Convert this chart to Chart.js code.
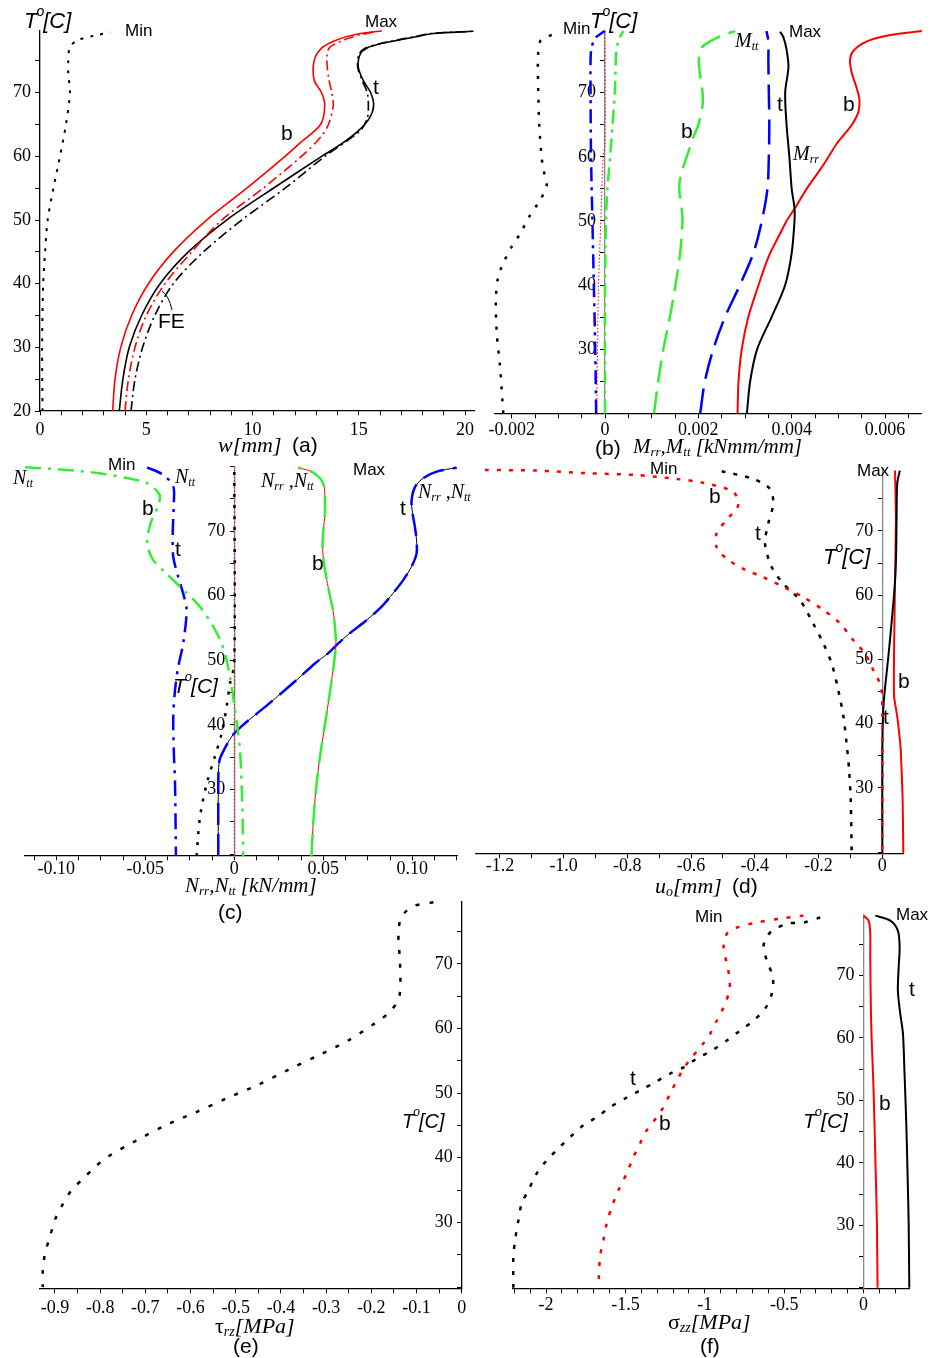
<!DOCTYPE html>
<html><head><meta charset="utf-8">
<script src="https://cdn.jsdelivr.net/npm/chart.js@4.4.0/dist/chart.umd.min.js"></script>
<style>
html,body{margin:0;padding:0;background:#fff;}
#wrap{position:relative;width:930px;height:1358px;overflow:hidden;background:#fff;}
canvas{position:absolute;left:0;top:0;}
</style></head><body><div id="wrap">
<canvas id="ca" width="930" height="1358"></canvas>
<canvas id="cb" width="930" height="1358"></canvas>
<canvas id="cc" width="930" height="1358"></canvas>
<canvas id="cd" width="930" height="1358"></canvas>
<canvas id="ce" width="930" height="1358"></canvas>
<canvas id="cf" width="930" height="1358"></canvas>
</div>
<script>
// ---------- (a) deflection w [mm] vs T ----------
const aT_min = [20, 30, 40, 45, 50, 55, 60, 65, 70, 73, 75, 77.2, 78.3, 79.0, 79.5];
const aW_min = [0.12, 0.10, 0.15, 0.24, 0.36, 0.63, 0.94, 1.22, 1.41, 1.33, 1.33, 1.41, 1.8, 2.6, 3.3];
const aT_b = [20, 25, 30, 35, 40, 45, 50, 55, 60, 62, 65, 68, 70, 72, 75, 77, 78.3, 79.3, 79.7];
const aW_b = [3.42, 3.53, 3.80, 4.31, 5.10, 6.27, 7.84, 9.73, 11.53, 12.2, 13.2, 13.4, 13.25, 12.9, 12.9, 13.25, 13.96, 15.06, 16.08];
const aT_bfe = [20, 25, 30, 35, 40, 45, 50, 55, 60, 63, 65, 68, 70, 72, 75, 77, 78.3, 79.2, 79.6];
const aW_bfe = [4.0, 4.16, 4.47, 5.0, 5.88, 7.14, 8.55, 10.5, 12.3, 13.2, 13.57, 13.8, 13.73, 13.6, 13.5, 13.6, 14.3, 15.2, 15.8];
const aT_t = [20, 25, 30, 35, 40, 45, 50, 55, 60, 62, 64, 66, 68, 70, 72, 74, 76, 77, 77.8, 78.8, 79.3, 79.65];
const aW_t = [3.73, 3.9, 4.2, 4.78, 5.65, 6.98, 8.78, 10.98, 13.25, 14.2, 14.98, 15.5, 15.7, 15.56, 15.2, 14.98, 15.06, 15.37, 16.16, 17.7, 18.5, 20.4];
const aT_tfe = [20, 25, 30, 35, 40, 45, 50, 55, 60, 64, 66, 68, 70, 72, 74, 76, 77, 77.8, 78.8, 79.3, 79.65];
const aW_tfe = [4.28, 4.47, 4.83, 5.4, 6.27, 7.69, 9.49, 11.53, 13.4, 15.06, 15.4, 15.45, 15.4, 15.15, 14.95, 15.0, 15.3, 16.1, 17.6, 18.4, 20.3];

// ---------- (b) moments Mrr, Mtt [kNmm/mm] ----------
const bT_min = [20, 27.3, 32.5, 37.7, 41.3, 43.4, 46, 48, 50.7, 53.3, 55.5, 58, 60, 65, 70, 75, 77, 78.2, 79.3];
const bM_min = [-0.00218, -0.00225, -0.00232, -0.00234, -0.00229, -0.00218, -0.0020, -0.00182, -0.00162, -0.00139, -0.00125, -0.00132, -0.00136, -0.00141, -0.00143, -0.00144, -0.00142, -0.00137, -0.00104];
const bT_tMin = [20, 30, 40, 50, 60, 70, 75, 77, 78.5, 79.3, 79.6];
const bM_tMin = [-0.00019, -0.00021, -0.00024, -0.00027, -0.00030, -0.00031, -0.00031, -0.00029, -0.00021, -0.00007, 0];
const bT_bMinRr = [20, 30, 40, 50, 60, 62, 79.6];
const bM_bMinRr = [-0.00018, -0.00016, -0.00014, -0.00009, -0.00004, 0, 0];
const bT_bMinTt = [20, 40, 50, 55, 60, 65, 70, 75, 77, 78.5, 79.6];
const bM_bMinTt = [0, 0, 0.00002, 0.00005, 0.00011, 0.00016, 0.00021, 0.00023, 0.00025, 0.00031, 0.00039];
const bT_bMtt = [20, 25, 30, 35, 40, 45, 50, 52, 55, 57, 60, 63, 65, 68, 70, 72, 75, 77, 78, 79, 79.6];
const bM_bMtt = [0.00105, 0.00114, 0.00125, 0.00139, 0.00151, 0.00161, 0.00166, 0.00164, 0.00159, 0.00162, 0.00175, 0.00189, 0.0020, 0.00209, 0.00209, 0.00205, 0.00201, 0.00207, 0.00225, 0.00254, 0.00279];
const bT_tMtt = [20, 25, 30, 35, 40, 45, 50, 55, 60, 65, 70, 75, 78, 79.6];
const bM_tMtt = [0.00204, 0.00214, 0.00232, 0.00257, 0.00289, 0.00318, 0.00336, 0.00348, 0.00351, 0.00352, 0.00351, 0.0035, 0.0035, 0.00346];
const bT_tMrr = [20, 25, 30, 35, 40, 45, 50, 52, 55, 60, 65, 70, 74, 76.7, 78.7, 79.5];
const bM_tMrr = [0.00304, 0.00311, 0.00326, 0.00357, 0.00386, 0.0040, 0.00406, 0.00406, 0.0040, 0.00395, 0.00389, 0.00386, 0.00393, 0.00389, 0.00382, 0.00375];
const bT_bMrr = [20, 25, 30, 35, 40, 43, 45, 48, 50, 52, 55, 58, 60, 62, 65, 67, 69, 71, 73, 75, 76.5, 78, 79, 79.6];
const bM_bMrr = [0.00284, 0.00286, 0.00293, 0.00307, 0.00329, 0.00343, 0.00354, 0.00375, 0.00389, 0.00407, 0.00432, 0.00461, 0.00479, 0.00496, 0.00529, 0.00543, 0.00545, 0.00538, 0.00529, 0.00525, 0.00532, 0.00561, 0.00611, 0.00679];

// ---------- (c) forces Nrr, Ntt [kN/mm] ----------
const cT_bMinTt = [79.86, 79.45, 78.9, 78.2, 77.4, 75.6, 73.8, 71.2, 68.1, 65.5, 63.4, 60.9, 58.3, 55.2, 52.6, 50.0, 47.4, 44.3, 39.7, 36.1, 30.9, 25.7, 19.7];
const cN_bMinTt = [-0.1176, -0.094, -0.075, -0.0605, -0.049, -0.042, -0.043, -0.047, -0.049, -0.0455, -0.038, -0.0287, -0.0193, -0.0118, -0.0071, -0.0043, -0.0024, -0.0006, 0.0017, 0.0032, 0.0041, 0.0047, 0.005];
const cT_tMinTt = [79.86, 78.7, 76.9, 74.3, 69.6, 66.0, 62.9, 60.3, 57.8, 52.6, 49.0, 45.4, 41.3, 36.1, 30.9, 19.7];
const cN_tMinTt = [-0.049, -0.040, -0.0343, -0.034, -0.0346, -0.0343, -0.0315, -0.0287, -0.0268, -0.0287, -0.0315, -0.0333, -0.0343, -0.034, -0.0333, -0.0328];
const cT_tMinRr = [19.7, 25.7, 30.9, 35.1, 38.7, 42.8, 46.4, 49.5, 80];
const cN_tMinRr = [-0.0212, -0.0193, -0.0155, -0.0109, -0.0071, -0.0043, -0.0024, 0, 0];
const cT_bMinRr = [19.7, 80];
const cN_bMinRr = [0, 0];
const cT_tMax = [19.7, 30, 33.4, 34.8, 36.9, 38.5, 40, 41.3, 43.4, 45.4, 47.4, 49.5, 51.1, 52.6, 54.2, 56.2, 58.3, 60.4, 62.4, 64.5, 66.5, 68.6, 70.6, 72.7, 74.7, 76.8, 78.2, 79.2, 79.8];
const cN_tMax = [-0.009, -0.009, -0.0088, -0.008, -0.0043, -0.0006, 0.005, 0.0107, 0.020, 0.0285, 0.0369, 0.0453, 0.0528, 0.0584, 0.065, 0.0743, 0.0828, 0.0893, 0.0949, 0.0996, 0.1024, 0.1024, 0.1015, 0.1002, 0.0996, 0.1015, 0.1062, 0.1137, 0.1249];
const cT_bMax = [19.7, 25, 30, 35, 40, 45, 50, 52.6, 55, 57.5, 60, 62.5, 65, 67.5, 70, 72.5, 75, 77, 78.2, 79.2, 79.8];
const cN_bMax = [0.0434, 0.0444, 0.0459, 0.0481, 0.0509, 0.0537, 0.0562, 0.0571, 0.0566, 0.0556, 0.0537, 0.0519, 0.0504, 0.0496, 0.050, 0.0509, 0.0509, 0.0504, 0.0481, 0.0434, 0.036];

// ---------- (d) in-plane displacement uo [mm] ----------
const dT_bMin = [79.5, 79.4, 79.0, 78.7, 78.1, 77.5, 76.1, 74.0, 71.7, 69.6, 67.5, 65.7, 64.1, 62.8, 61.3, 59.7, 57.7, 55.6, 53.0, 50.9, 48.3, 46.2, 44.2, 19.8];
const dU_bMin = [-1.247, -1.085, -0.928, -0.771, -0.646, -0.562, -0.468, -0.452, -0.489, -0.52, -0.52, -0.489, -0.436, -0.374, -0.311, -0.248, -0.185, -0.133, -0.091, -0.054, -0.028, -0.007, 0, 0];
const dT_tMin = [79.3, 78.1, 76.6, 74.3, 71.1, 68.0, 64.4, 61.8, 59.2, 55.6, 52.5, 49.4, 45.2, 41.1, 36.9, 32.7, 28.1, 19.8];
const dU_tMin = [-0.504, -0.405, -0.353, -0.342, -0.358, -0.368, -0.347, -0.311, -0.258, -0.217, -0.185, -0.159, -0.138, -0.122, -0.112, -0.104, -0.099, -0.096];
const dT_tMax = [19.8, 35.9, 42.1, 45.2, 50.4, 55.6, 60.8, 65.4, 72.2, 77.4, 79.4];
const dU_tMax = [0, 0, 0.003, 0.008, 0.019, 0.029, 0.038, 0.043, 0.045, 0.047, 0.055];
const dT_bMax = [19.8, 28.1, 35.9, 41.1, 44.2, 51.4, 61.8, 72.2, 79.4];
const dU_bMax = [0.066, 0.064, 0.058, 0.047, 0.037, 0.037, 0.040, 0.043, 0.040];

// ---------- (e) shear stress tau_rz [MPa] ----------
const eT = [79.5, 78.9, 77.3, 74.7, 70.1, 64.9, 62.6, 60.8, 58.0, 55.7, 53.6, 51.3, 49.2, 47.1, 45.1, 42.7, 40.2, 38.6, 36.8, 35.0, 32.9, 30.4, 27.8, 25.2, 22.6, 20.0];
const eTau = [-0.0627, -0.107, -0.133, -0.14, -0.1365, -0.138, -0.1586, -0.192, -0.2545, -0.321, -0.384, -0.45, -0.52, -0.586, -0.653, -0.719, -0.782, -0.811, -0.837, -0.863, -0.882, -0.90, -0.911, -0.922, -0.927, -0.927];

// ---------- (f) peeling stress sigma_zz [MPa] ----------
const fT_tMin = [79.3, 78.5, 78.3, 76.9, 74.8, 72.4, 69.7, 67.1, 64.7, 62.8, 61.2, 59.6, 58.0, 56.7, 55.3, 54.3, 52.9, 51.6, 50.3, 48.9, 47.3, 46.0, 44.1, 42.3, 40.4, 38.3, 35.6, 33.5, 30.8, 27.6, 24.9, 20.0];
const fS_tMin = [-0.273, -0.378, -0.483, -0.588, -0.63, -0.609, -0.571, -0.578, -0.62, -0.693, -0.777, -0.861, -0.956, -1.05, -1.134, -1.218, -1.313, -1.408, -1.502, -1.597, -1.681, -1.765, -1.849, -1.922, -1.996, -2.059, -2.111, -2.153, -2.174, -2.195, -2.206, -2.206];
const fT_bMin = [79.6, 79.2, 78.5, 77.7, 76.7, 74.5, 72.4, 69.7, 67.6, 64.9, 62.8, 60.7, 58.8, 56.9, 55.1, 53.2, 51.1, 48.9, 47.3, 45.2, 43.1, 40.9, 38.3, 35.6, 32.9, 30.3, 27.6, 24.9, 20.0];
const fS_bMin = [-0.378, -0.504, -0.672, -0.798, -0.861, -0.882, -0.866, -0.845, -0.845, -0.882, -0.924, -0.966, -1.019, -1.082, -1.134, -1.176, -1.218, -1.261, -1.303, -1.366, -1.408, -1.45, -1.492, -1.544, -1.586, -1.618, -1.639, -1.66, -1.67];
const fT_bMax = [79.6, 78.8, 76.7, 72.9, 62.3, 51.6, 40.9, 30.3, 20.0];
const fS_bMax = [0, 0.032, 0.042, 0.042, 0.048, 0.063, 0.074, 0.084, 0.088];
const fT_tMax = [79.6, 78.8, 77.2, 74.5, 71.3, 67.6, 63.9, 60.7, 54.3, 46.3, 38.3, 30.3, 20.0];
const fS_tMax = [0.074, 0.168, 0.216, 0.227, 0.221, 0.216, 0.231, 0.248, 0.258, 0.269, 0.277, 0.284, 0.288];

// ---------- styling helpers ----------
const SANS = "'Liberation Sans', Arial, sans-serif";
const SERIF = "'Liberation Serif', 'Times New Roman', serif";
const RED = '#ff0000', BLK = '#000000', GRN = '#33ee33', BLU = '#0000ff';
const DOT = [3, 7], DASHDOT = [10, 4, 2, 4], LDASH = [22, 9], DDOT2 = [14, 6, 3, 6];
function sans(sz, it) { return (it ? 'italic ' : '') + sz + 'px ' + SANS; }
function serif(sz, it) { return (it ? 'italic ' : '') + sz + 'px ' + SERIF; }

function line(xs, ts, color, width, dash, tension) {
  return {
    data: ts.map((t, i) => ({x: xs[i], y: t})),
    showLine: true, borderColor: color, backgroundColor: color, borderWidth: width,
    borderDash: dash || [], pointRadius: 0, pointHoverRadius: 0, fill: false,
    tension: tension === undefined ? 0.3 : tension, clip: false,
    borderJoinStyle: 'round'
  };
}
function txt(px, py, runs) { return {px, py, runs}; }
function plain(px, py, s, sz) { return txt(px, py, [{t: s, f: sans(sz)}]); }
function tempLabel(px, py, sz) {
  return txt(px, py, [{t: 'T', f: sans(sz, true)}, {t: 'o', f: sans(Math.round(sz * 0.62), true), dy: -sz * 0.45, dx: -1}, {t: '[C]', f: sans(sz, true), dx: -1}]);
}
function subbed(px, py, parts, sz) {
  return txt(px, py, parts.map(p => p[1]
    ? {t: p[0], f: serif(Math.round(sz * 0.62), p[2] !== false), dy: sz * 0.25}
    : {t: p[0], f: serif(sz, p[2] !== false)}));
}

function notesPlugin(items, curves) {
  return {
    id: 'notes',
    afterDraw(chart) {
      const ctx = chart.ctx;
      ctx.save();
      ctx.textBaseline = 'middle'; ctx.textAlign = 'left'; ctx.fillStyle = '#000';
      for (const it of items) {
        let x = it.px;
        for (const r of it.runs) {
          ctx.font = r.f; x += (r.dx || 0);
          ctx.fillText(r.t, x, it.py + (r.dy || 0));
          x += ctx.measureText(r.t).width;
        }
      }
      ctx.strokeStyle = '#000'; ctx.lineWidth = 1;
      for (const c of (curves || [])) {
        ctx.beginPath(); ctx.moveTo(c[0], c[1]); ctx.quadraticCurveTo(c[2], c[3], c[4], c[5]); ctx.stroke();
      }
      ctx.restore();
    }
  };
}

function tickFmt(major, fmt, hide) {
  return function (v) {
    const q = v / major;
    if (Math.abs(q - Math.round(q)) > 1e-6) return '';
    if (hide && hide(v)) return '';
    return fmt(v);
  };
}

function panel(id, P) {
  const [L, T, R, B] = P.area;
  new Chart(document.getElementById(id), {
    type: 'scatter',
    data: {datasets: P.sets},
    options: {
      responsive: false, animation: false, devicePixelRatio: 1, events: [],
      layout: {padding: {left: L, top: T, right: 930 - R, bottom: 1358 - B}},
      plugins: {legend: {display: false}, tooltip: {enabled: false}},
      scales: {
        x: {
          type: 'linear', min: P.x.min, max: P.x.max, position: {y: P.y.min},
          border: {display: true, color: '#000', width: 1.3},
          grid: {drawOnChartArea: false, drawTicks: true, tickLength: 4, color: '#000', lineWidth: 1},
          ticks: {stepSize: P.x.step, includeBounds: false, autoSkip: false, maxRotation: 0, minRotation: 0,
                  padding: P.x.pad === undefined ? 3 : P.x.pad, color: '#000', font: {family: SERIF, size: 18},
                  callback: tickFmt(P.x.major, P.x.fmt)}
        },
        y: {
          type: 'linear', min: P.y.min, max: P.y.max, position: {x: 0},
          border: {display: true, color: P.y.color, width: 1.3},
          grid: {drawOnChartArea: false, drawTicks: true, tickLength: 4, color: '#000', lineWidth: 1},
          ticks: {stepSize: 5, includeBounds: false, autoSkip: false, padding: 4, color: '#000',
                  font: {family: SERIF, size: 18},
                  // the crossing axis draws labels flush with the axis line; an en space keeps them clear of it
                  callback: tickFmt(10, v => String(Math.round(v)) + '\u2002',
                                    v => (P.y.hide20 && Math.round(v) === 20) || Math.round(v) >= 80)}
        }
      }
    },
    plugins: [notesPlugin(P.notes, P.curves)]
  });
}

const fmtInt = v => String(Math.round(v));
const fmtN = n => v => Math.abs(v) < 1e-12 ? '0' : v.toFixed(n);

// ---------- (a) ----------
panel('ca', {
  area: [40, 31, 474.6, 411],
  x: {min: 0, max: 20.45, step: 1, major: 5, fmt: fmtInt, pad: 4},
  y: {min: 20, max: 79.7, color: '#000', hide20: false},
  sets: [
    line(aW_min, aT_min, BLK, 2, DOT),
    line(aW_b, aT_b, RED, 1.6),
    line(aW_bfe, aT_bfe, RED, 1.6, DASHDOT),
    line(aW_t, aT_t, BLK, 1.6),
    line(aW_tfe, aT_tfe, BLK, 1.6, DASHDOT)
  ],
  notes: [
    tempLabel(24, 22, 22),
    plain(125, 31, 'Min', 17),
    plain(365, 22, 'Max', 17),
    plain(281, 134, 'b', 21),
    plain(373, 88, 't', 21),
    plain(158, 322, 'FE', 21),
    txt(218, 446, [{t: 'w[mm]', f: serif(22, true)}]),
    plain(292, 446, '(a)', 21)
  ],
  curves: [[172, 310, 169, 296, 162, 291]]
});

// ---------- (b) ----------
panel('cb', {
  area: [494.9, 31.1, 921.9, 413.3],
  x: {min: -0.00236, max: 0.00679, step: 0.0005, major: 0.002, fmt: fmtN(3), pad: 2},
  y: {min: 20, max: 79.6, color: '#888', hide20: true},
  sets: [
    line(bM_tMin, bT_tMin, BLU, 2.5, DDOT2),
    line(bM_bMinTt, bT_bMinTt, GRN, 2.5, DDOT2),
    line(bM_bMinRr, bT_bMinRr, RED, 1, [1.5, 2]),
    line(bM_min, bT_min, BLK, 2.5, [3, 9]),
    line(bM_bMtt, bT_bMtt, GRN, 2.5, LDASH),
    line(bM_tMtt, bT_tMtt, BLU, 2.5, [25, 10]),
    line(bM_tMrr, bT_tMrr, BLK, 2),
    line(bM_bMrr, bT_bMrr, RED, 2)
  ],
  notes: [
    plain(563, 29, 'Min', 17),
    tempLabel(590, 22, 22),
    subbed(735, 42, [['M', false], ['tt', true]], 20),
    plain(789, 32, 'Max', 17),
    plain(777, 105, 't', 21),
    plain(843, 105, 'b', 21),
    plain(681, 132, 'b', 21),
    subbed(793, 155, [['M', false], ['rr', true]], 20),
    plain(595, 449, '(b)', 21),
    subbed(633, 447, [['M', false], ['rr', true], [',M', false], ['tt', true], [' [kNmm/mm]', false]], 21)
  ]
});

// ---------- (c) ----------
panel('cc', {
  area: [25, 466.4, 457.3, 856],
  x: {min: -0.1176, max: 0.1253, step: 0.0125, major: 0.05, fmt: fmtN(2), pad: -2},
  y: {min: 19.7, max: 80, color: '#888', hide20: true},
  sets: [
    line(cN_bMinTt, cT_bMinTt, GRN, 2.5, [16, 7, 3, 7]),
    line(cN_tMinTt, cT_tMinTt, BLU, 2.5, [16, 7, 3, 7]),
    line(cN_tMinRr, cT_tMinRr, BLK, 2.5, [3, 8]),
    line(cN_bMinRr, cT_bMinRr, RED, 1, [1.5, 2]),
    line(cN_bMax, cT_bMax, GRN, 2.5, LDASH),
    line(cN_bMax, cT_bMax, RED, 1),
    line(cN_tMax, cT_tMax, BLU, 2.5, LDASH),
    line(cN_tMax, cT_tMax, BLK, 1)
  ],
  notes: [
    subbed(13, 479, [['N', false], ['tt', true]], 20),
    plain(108, 465, 'Min', 17),
    subbed(175, 478, [['N', false], ['tt', true]], 20),
    plain(142, 509, 'b', 21),
    plain(175, 550, 't', 21),
    tempLabel(173, 687, 21),
    subbed(261, 482, [['N', false], ['rr', true], [' ,N', false], ['tt', true]], 20),
    plain(353, 470, 'Max', 17),
    subbed(418, 493, [['N', false], ['rr', true], [' ,N', false], ['tt', true]], 20),
    plain(400, 509, 't', 21),
    plain(312, 564, 'b', 21),
    subbed(185, 886, [['N', false], ['rr', true], [',N', false], ['tt', true], [' [kN/mm]', false]], 21),
    plain(218, 913, '(c)', 21)
  ]
});

// ---------- (d) ----------
panel('cd', {
  area: [476, 469.3, 903.3, 853.3],
  x: {min: -1.275, max: 0.066, step: 0.1, major: 0.2, fmt: fmtN(1), pad: -2},
  y: {min: 19.8, max: 79.6, color: '#888', hide20: true},
  sets: [
    line(dU_bMin, dT_bMin, RED, 2.5, [4, 8]),
    line(dU_tMin, dT_tMin, BLK, 2.5, [4, 8]),
    line(dU_tMax, dT_tMax, BLK, 2),
    line(dU_bMax, dT_bMax, RED, 2, [], 0.1)
  ],
  notes: [
    plain(650, 469, 'Min', 17),
    plain(857, 471, 'Max', 17),
    plain(709, 497, 'b', 21),
    plain(755, 534, 't', 21),
    tempLabel(823, 558, 22),
    plain(898, 682, 'b', 21),
    plain(883, 718, 't', 21),
    subbed(655, 887, [['u', false], ['o', true], ['[mm]', false]], 22),
    plain(732, 887, '(d)', 21)
  ]
});

// ---------- (e) ----------
panel('ce', {
  area: [39.3, 901.7, 461.7, 1289],
  x: {min: -0.9347, max: 0, step: 0.05, major: 0.1, fmt: fmtN(1), pad: 4},
  y: {min: 19.7, max: 79.6, color: '#000', hide20: true},
  sets: [
    line(eTau, eT, BLK, 2.5, [4, 10])
  ],
  notes: [
    tempLabel(402, 1122, 20),
    subbed(215, 1327, [['\u03c4', false, false], ['rz', true], ['[MPa]', false]], 22),
    plain(233, 1347, '(e)', 21)
  ]
});

// ---------- (f) ----------
panel('cf', {
  area: [512.7, 915, 909.3, 1288.3],
  x: {min: -2.21, max: 0.288, step: 0.1, major: 0.5, fmt: v => Math.abs(v) < 1e-9 ? '0' : String(Math.round(v * 10) / 10), pad: 2},
  y: {min: 19.9, max: 79.7, color: '#888', hide20: true},
  sets: [
    line(fS_tMin, fT_tMin, BLK, 2.5, [4, 9]),
    line(fS_bMin, fT_bMin, RED, 2.5, [4, 9]),
    line(fS_bMax, fT_bMax, RED, 2),
    line(fS_tMax, fT_tMax, BLK, 2)
  ],
  notes: [
    plain(695, 917, 'Min', 17),
    plain(896, 915, 'Max', 17),
    plain(630, 1079, 't', 21),
    plain(659, 1124, 'b', 21),
    plain(909, 990, 't', 21),
    plain(879, 1104, 'b', 21),
    tempLabel(803, 1122, 21),
    subbed(668, 1323, [['\u03c3', false, false], ['zz', true], ['[MPa]', false]], 22),
    plain(700, 1347, '(f)', 21)
  ]
});
</script></body></html>
